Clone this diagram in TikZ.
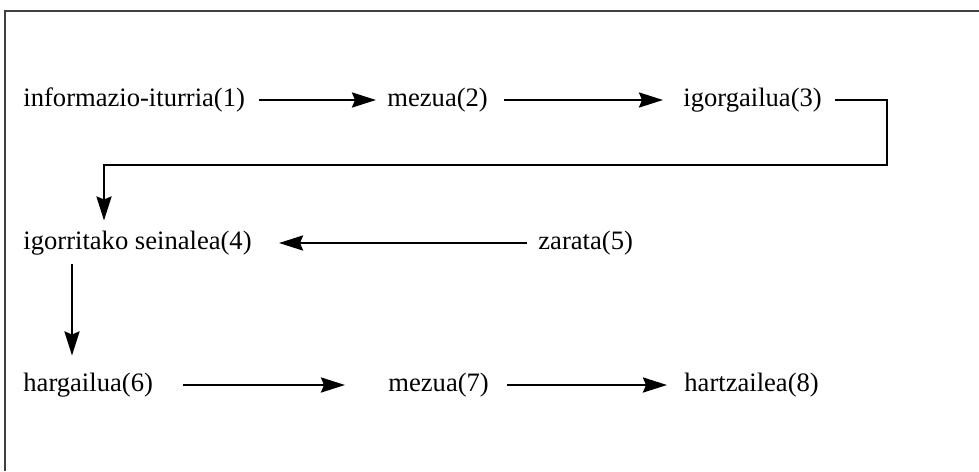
\documentclass[tikz,border=0pt]{standalone}
\usepackage{fontspec}
\setmainfont{Liberation Serif}
\usetikzlibrary{arrows.meta}

\begin{document}
\begin{tikzpicture}[x=0.5pt,y=-0.5pt,
  lbl/.style={anchor=west,inner sep=0pt,font=\fontsize{13.3}{16}\selectfont},
  arr/.style={line width=1.3pt,-{Stealth[length=12pt,width=7.5pt,inset=1.5pt]}},
  ln/.style={line width=1.3pt}]
\useasboundingbox (0,0) rectangle (979,471);
\draw[line width=1pt,black!75] (5,471) -- (5,11) -- (979,11);

\node[lbl](src) at (23,100) {informazio-iturria(1)};
\node[lbl](msgA) at (387,100) {mezua(2)};
\node[lbl](trans) at (683,100) {igorgailua(3)};
\node[lbl](signal) at (23,243) {igorritako seinalea(4)};
\node[lbl](noise) at (538,243) {zarata(5)};
\node[lbl](recv) at (23,385) {hargailua(6)};
\node[lbl](msgB) at (388,385) {mezua(7)};
\node[lbl](dest) at (684,385) {hartzailea(8)};

\coordinate (turn) at (887,165);

\draw[arr,shorten <=7pt,shorten >=5.5pt] (src) -- (msgA);
\draw[arr,shorten <=8pt,shorten >=10pt] (msgA) -- (trans);
\draw[arr,shorten >=5pt] ([xshift=6.5pt]trans.east) -| (turn) -| ([xshift=40.5pt]signal.north west);
\draw[arr,shorten <=5.5pt,shorten >=13.5pt] (noise) -- (signal);
\draw[arr,shorten <=4pt,shorten >=8.5pt] ([xshift=24.5pt]signal.south west) -- ([xshift=24.5pt]recv.north west);
\draw[arr,shorten <=15pt,shorten >=21.5pt] (recv) -- (msgB);
\draw[arr,shorten <=9pt,shorten >=8.5pt] (msgB) -- (dest);
\end{tikzpicture}
\end{document}
